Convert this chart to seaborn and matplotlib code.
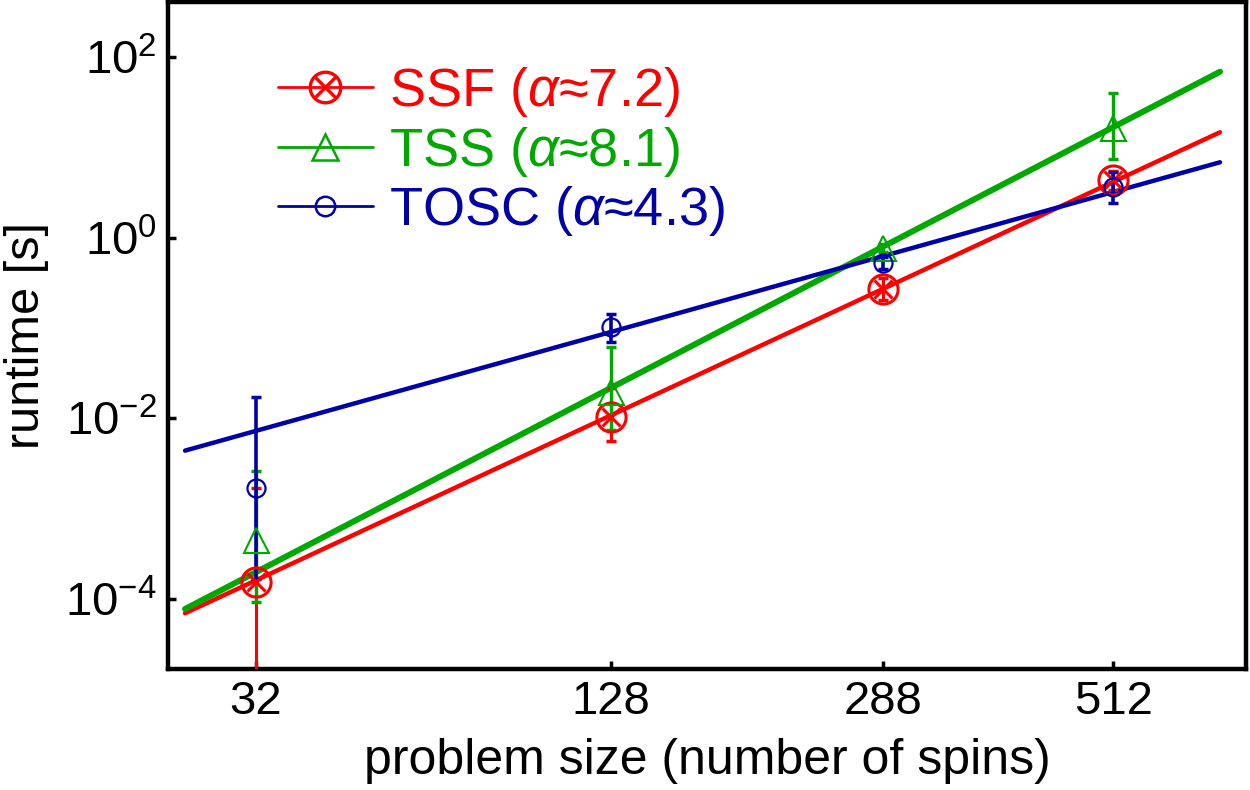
import numpy as np
import pandas as pd
import matplotlib
matplotlib.use("Agg")
import matplotlib.pyplot as plt
import seaborn as sns
from matplotlib.lines import Line2D
from matplotlib.legend_handler import HandlerTuple
from matplotlib.ticker import NullLocator, LogFormatterMathtext

# measured points (runtime in seconds) with error bar limits
sizes = [32, 128, 288, 512]

ssf_runtime = [1.53e-4, 0.0104, 0.268, 4.35]
ssf_low = [1e-7, 0.0056, 0.204, 3.37]
ssf_high = [1.69e-3, 0.0217, 0.358, 5.47]

tss_runtime = [4.5e-4, 0.0197, 0.763, 16.3]
tss_low = [9.3e-5, 0.00743, 0.69, 7.43]
tss_high = [2.63e-3, 0.0621, 0.85, 39.7]

tosc_runtime = [1.71e-3, 0.102, 0.521, 3.67]
tosc_low = [1.65e-4, 0.0706, 0.447, 2.44]
tosc_high = [0.0171, 0.142, 0.616, 5.38]

# fitted lines (end points)
fit_sizes = [22.7, 652]
ssf_fit = [6.95e-5, 14.7]
tss_fit = [7.75e-5, 68.8]
tosc_fit = [4.39e-3, 6.84]

labels = ["SSF ($\\mathit{\\alpha}$≈7.2)", "TSS ($\\mathit{\\alpha}$≈8.1)", "TOSC ($\\mathit{\\alpha}$≈4.3)"]
colors = ["#ff0000", "#00a800", "#0000a8"]

sns.set_theme(style="ticks")
plt.rcParams['font.family'] = ['Liberation Sans', 'DejaVu Sans']
plt.rcParams['mathtext.fontset'] = 'custom'
plt.rcParams['mathtext.rm'] = 'Liberation Sans'
plt.rcParams['mathtext.it'] = 'Liberation Sans:italic'
plt.rcParams['text.color'] = 'black'
plt.rcParams['axes.labelcolor'] = 'black'

fig = plt.figure(figsize=(12.5, 7.9), dpi=100)
ax = fig.add_axes([0.1344, 0.1532, 0.8624, 0.8443])

ax.set_xscale('function', functions=(lambda x: np.sign(x) * np.abs(x) ** 0.25,
                                     lambda y: np.sign(y) * np.abs(y) ** 4))
ax.set_yscale('log')

fits = pd.DataFrame({
    "size": fit_sizes * 3,
    "runtime": ssf_fit + tss_fit + tosc_fit,
    "method": ["SSF"] * 2 + ["TSS"] * 2 + ["TOSC"] * 2,
})
line_widths = {"SSF": 3.2, "TSS": 4.3, "TOSC": 3.2}
for (name, grp), c in zip(fits.groupby("method", sort=False), colors):
    sns.lineplot(data=grp, x="size", y="runtime", color=c, lw=line_widths[name],
                 ax=ax, legend=False, zorder=2)

series = [
    (ssf_runtime, ssf_low, ssf_high),
    (tss_runtime, tss_low, tss_high),
    (tosc_runtime, tosc_low, tosc_high),
]
ebar_w = [2.2, 2.4, 2.6]
for (val, lo, hi), c, w in zip(series, colors, ebar_w):
    val = np.array(val)
    yerr = [val - np.array(lo), np.array(hi) - val]
    ax.errorbar(sizes, val, yerr=yerr, fmt='none', ecolor=c, elinewidth=w,
                capsize=3.5, capthick=2.5, zorder=3)

ax.plot(sizes, ssf_runtime, 'o', ms=21, mfc='none', mec=colors[0], mew=2.2, zorder=4)
ax.plot(sizes, ssf_runtime, 'x', ms=13, mec=colors[0], mew=2.2, zorder=4)
ax.plot(sizes, tss_runtime, '^', ms=18, mfc='none', mec=colors[1], mew=1.5, zorder=4)
ax.plot(sizes, tosc_runtime, 'o', ms=13, mfc='none', mec=colors[2], mew=1.6, zorder=5)

ax.set_xlim(20.8, 690)
ax.set_ylim(1.68e-5, 407)
ax.set_xticks(sizes)
ax.set_xticklabels([str(s) for s in sizes])
ax.xaxis.set_minor_locator(NullLocator())
ax.set_yticks([1e-4, 1e-2, 1e0, 1e2])
ax.yaxis.set_major_formatter(LogFormatterMathtext())
ax.yaxis.set_minor_locator(NullLocator())

ax.tick_params(axis='both', direction='in', length=6, width=2.5, labelsize=34,
               colors='black', pad=8)
for sp in ax.spines.values():
    sp.set_linewidth(3.2)
    sp.set_color('black')

ax.set_xlabel("problem size (number of spins)", fontsize=36, labelpad=10)
ax.set_ylabel("runtime [s]", fontsize=35, labelpad=12)

h_ssf = (Line2D([], [], color=colors[0], lw=2),
         Line2D([], [], marker='o', ls='none', ms=22, mfc='none', mec=colors[0], mew=2.4),
         Line2D([], [], marker='x', ls='none', ms=14, mec=colors[0], mew=2.4))
h_tss = (Line2D([], [], color=colors[1], lw=2),
         Line2D([], [], marker='^', ls='none', ms=19, mfc='none', mec=colors[1], mew=1.8))
h_tosc = (Line2D([], [], color=colors[2], lw=2),
          Line2D([], [], marker='o', ls='none', ms=14, mfc='none', mec=colors[2], mew=1.8))
leg = ax.legend([h_ssf, h_tss, h_tosc], labels, handler_map={tuple: HandlerTuple(ndivide=1)},
                loc='upper left', bbox_to_anchor=(0.102, 0.905), frameon=False,
                fontsize=39, handlelength=1.75, handletextpad=0.3, labelspacing=0.1,
                borderpad=0, borderaxespad=0)
for t, c in zip(leg.get_texts(), colors):
    t.set_color(c)

fig.savefig("out.png", dpi=100)
